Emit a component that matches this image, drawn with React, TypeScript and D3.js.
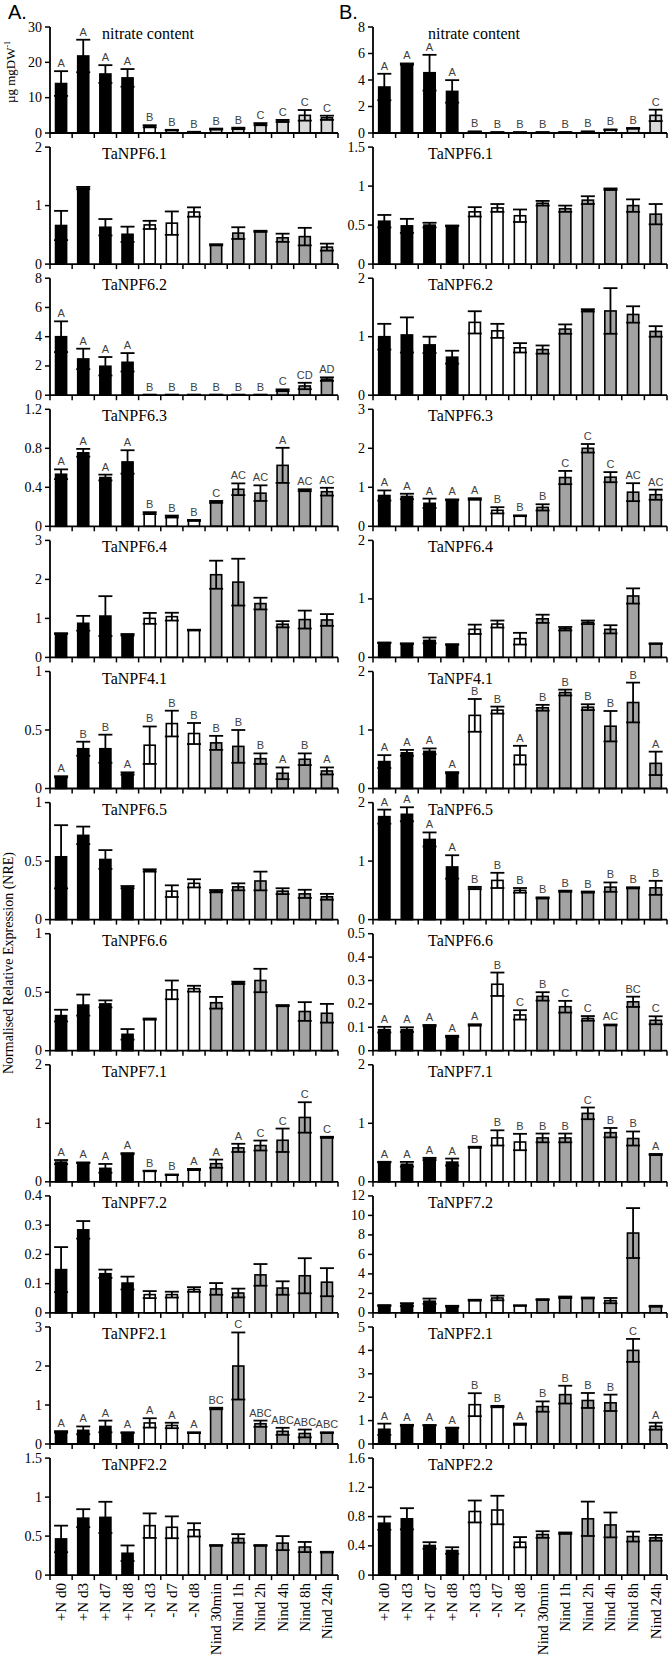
import * as d3 from 'd3';

// sampling points along the x axis
const categories = [
  '+N d0', '+N d3', '+N d7', '+N d8', '-N d3', '-N d7', '-N d8',
  'Nind 30min', 'Nind 1h', 'Nind 2h', 'Nind 4h', 'Nind 8h', 'Nind 24h',
];
const groups = ['plus', 'plus', 'plus', 'plus', 'minus', 'minus', 'minus', 'nind', 'nind', 'nind', 'nind', 'nind', 'nind'];

const titles = [
  'nitrate content', 'TaNPF6.1', 'TaNPF6.2', 'TaNPF6.3', 'TaNPF6.4', 'TaNPF4.1',
  'TaNPF6.5', 'TaNPF6.6', 'TaNPF7.1', 'TaNPF7.2', 'TaNPF2.1', 'TaNPF2.2',
];

// ---- panel A ----
const nitrateA = [14, 21.8, 16.7, 15.6, 1.9, 0.8, 0.3, 1.1, 1.3, 2.5, 3.4, 5.0, 4.3];
const nitrateAErr = [3.5, 4.6, 2.5, 2.5, 0.3, 0.1, 0.05, 0.15, 0.2, 0.3, 0.3, 1.5, 0.6];
const nitrateALet = ['A', 'A', 'A', 'A', 'B', 'B', 'B', 'B', 'B', 'C', 'C', 'C', 'C'];

const npf61A = [0.66, 1.3, 0.63, 0.51, 0.67, 0.7, 0.89, 0.33, 0.53, 0.56, 0.45, 0.47, 0.29];
const npf61AErr = [0.25, 0.02, 0.14, 0.13, 0.07, 0.2, 0.08, 0.01, 0.1, 0.01, 0.07, 0.15, 0.06];

const npf62A = [4.0, 2.48, 1.98, 2.25, 0.03, 0.03, 0.03, 0.03, 0.03, 0.03, 0.34, 0.63, 1.1];
const npf62AErr = [1.05, 0.7, 0.63, 0.63, 0.01, 0.01, 0.01, 0.01, 0.01, 0.01, 0.06, 0.22, 0.12];
const npf62ALet = ['A', 'A', 'A', 'A', 'B', 'B', 'B', 'B', 'B', 'B', 'C', 'CD', 'AD'];

const npf63A = [0.534, 0.754, 0.5, 0.66, 0.135, 0.1, 0.06, 0.25, 0.38, 0.34, 0.625, 0.37, 0.355];
const npf63AErr = [0.05, 0.04, 0.03, 0.12, 0.01, 0.01, 0.005, 0.01, 0.06, 0.08, 0.18, 0.01, 0.04];
const npf63ALet = ['A', 'A', 'A', 'A', 'B', 'B', 'B', 'C', 'AC', 'AC', 'A', 'AC', 'AC'];

const npf64A = [0.61, 0.875, 1.06, 0.58, 1.0, 1.045, 0.7, 2.12, 1.93, 1.38, 0.85, 0.97, 0.96];
const npf64AErr = [0.01, 0.19, 0.51, 0.02, 0.14, 0.1, 0.01, 0.36, 0.6, 0.15, 0.08, 0.23, 0.15];

const npf41A = [0.1, 0.34, 0.34, 0.128, 0.37, 0.555, 0.47, 0.39, 0.36, 0.255, 0.13, 0.25, 0.15];
const npf41AErr = [0.005, 0.06, 0.12, 0.01, 0.16, 0.11, 0.09, 0.06, 0.14, 0.045, 0.05, 0.05, 0.03];
const npf41ALet = ['A', 'B', 'B', 'A', 'B', 'B', 'B', 'B', 'B', 'B', 'A', 'B', 'A'];

const npf65A = [0.537, 0.72, 0.514, 0.277, 0.42, 0.243, 0.31, 0.243, 0.28, 0.33, 0.243, 0.22, 0.195];
const npf65AErr = [0.27, 0.075, 0.08, 0.01, 0.01, 0.05, 0.035, 0.01, 0.03, 0.08, 0.025, 0.035, 0.025];

const npf66A = [0.3, 0.39, 0.4, 0.14, 0.27, 0.52, 0.53, 0.41, 0.58, 0.6, 0.385, 0.335, 0.32];
const npf66AErr = [0.05, 0.09, 0.03, 0.045, 0.005, 0.08, 0.025, 0.05, 0.01, 0.1, 0.005, 0.08, 0.08];

const npf71A = [0.337, 0.326, 0.23, 0.48, 0.185, 0.12, 0.21, 0.31, 0.58, 0.62, 0.71, 1.1, 0.76];
const npf71AErr = [0.035, 0.005, 0.075, 0.01, 0.005, 0.005, 0.01, 0.07, 0.07, 0.085, 0.2, 0.26, 0.01];
const npf71ALet = ['A', 'A', 'A', 'A', 'B', 'B', 'A', 'A', 'A', 'C', 'C', 'C', 'C'];

const npf72A = [0.148, 0.284, 0.134, 0.102, 0.0625, 0.0625, 0.08, 0.082, 0.068, 0.13, 0.085, 0.127, 0.105];
const npf72AErr = [0.077, 0.03, 0.014, 0.022, 0.012, 0.01, 0.008, 0.02, 0.015, 0.037, 0.023, 0.06, 0.048];

const npf21A = [0.31, 0.35, 0.45, 0.29, 0.54, 0.475, 0.29, 0.91, 2.0, 0.52, 0.325, 0.27, 0.29];
const npf21AErr = [0.02, 0.1, 0.15, 0.01, 0.12, 0.07, 0.01, 0.02, 0.86, 0.08, 0.09, 0.1, 0.01];
const npf21ALet = ['A', 'A', 'A', 'A', 'A', 'A', 'A', 'BC', 'C', 'ABC', 'ABC', 'ABC', 'ABC'];

const npf22A = [0.464, 0.73, 0.74, 0.28, 0.634, 0.613, 0.58, 0.38, 0.47, 0.38, 0.41, 0.36, 0.294];
const npf22AErr = [0.17, 0.115, 0.2, 0.1, 0.157, 0.14, 0.085, 0.005, 0.055, 0.005, 0.09, 0.065, 0.005];

// ---- panel B ----
const nitrateB = [3.47, 5.2, 4.55, 3.14, 0.1, 0.05, 0.05, 0.05, 0.05, 0.1, 0.25, 0.35, 1.33];
const nitrateBErr = [1.0, 0.05, 1.35, 0.85, 0.02, 0.01, 0.01, 0.01, 0.01, 0.02, 0.02, 0.03, 0.43];
const nitrateBLet = ['A', 'A', 'A', 'A', 'B', 'B', 'B', 'B', 'B', 'B', 'B', 'B', 'C'];

const npf61B = [0.55, 0.49, 0.5, 0.49, 0.67, 0.72, 0.62, 0.78, 0.71, 0.82, 0.96, 0.75, 0.64];
const npf61BErr = [0.08, 0.09, 0.03, 0.005, 0.06, 0.05, 0.08, 0.03, 0.04, 0.05, 0.01, 0.08, 0.13];

const npf62B = [1.0, 1.03, 0.86, 0.65, 1.245, 1.1, 0.81, 0.78, 1.13, 1.45, 1.44, 1.38, 1.09];
const npf62BErr = [0.22, 0.3, 0.14, 0.11, 0.19, 0.12, 0.08, 0.07, 0.08, 0.02, 0.39, 0.14, 0.09];

const npf63B = [0.79, 0.765, 0.59, 0.68, 0.7, 0.41, 0.27, 0.485, 1.25, 2.0, 1.26, 0.875, 0.81];
const npf63BErr = [0.13, 0.07, 0.12, 0.01, 0.02, 0.08, 0.01, 0.08, 0.17, 0.11, 0.13, 0.23, 0.13];
const npf63BLet = ['A', 'A', 'A', 'A', 'A', 'B', 'B', 'B', 'C', 'C', 'C', 'AC', 'AC'];

const npf64B = [0.25, 0.235, 0.29, 0.22, 0.48, 0.57, 0.32, 0.66, 0.49, 0.6, 0.48, 1.05, 0.235];
const npf64BErr = [0.005, 0.005, 0.05, 0.005, 0.08, 0.06, 0.1, 0.07, 0.03, 0.03, 0.07, 0.13, 0.005];

const npf41B = [0.46, 0.61, 0.635, 0.27, 1.25, 1.34, 0.57, 1.38, 1.64, 1.39, 1.065, 1.47, 0.43];
const npf41BErr = [0.11, 0.05, 0.05, 0.01, 0.28, 0.06, 0.16, 0.05, 0.05, 0.05, 0.26, 0.34, 0.2];
const npf41BLet = ['A', 'A', 'A', 'A', 'B', 'B', 'A', 'B', 'B', 'B', 'B', 'B', 'A'];

const npf65B = [1.76, 1.8, 1.37, 0.9, 0.54, 0.67, 0.5, 0.37, 0.485, 0.47, 0.555, 0.543, 0.543];
const npf65BErr = [0.12, 0.12, 0.12, 0.2, 0.02, 0.13, 0.04, 0.01, 0.01, 0.01, 0.08, 0.01, 0.12];
const npf65BLet = ['A', 'A', 'A', 'A', 'B', 'B', 'B', 'B', 'B', 'B', 'B', 'B', 'B'];

const npf66B = [0.09, 0.09, 0.107, 0.061, 0.11, 0.284, 0.153, 0.232, 0.188, 0.138, 0.11, 0.209, 0.13];
const npf66BErr = [0.012, 0.01, 0.003, 0.003, 0.003, 0.05, 0.02, 0.018, 0.025, 0.01, 0.002, 0.022, 0.017];
const npf66BLet = ['A', 'A', 'A', 'A', 'A', 'B', 'C', 'B', 'C', 'C', 'AC', 'BC', 'C'];

const npf71B = [0.337, 0.3, 0.39, 0.337, 0.59, 0.75, 0.68, 0.75, 0.75, 1.17, 0.84, 0.74, 0.466];
const npf71BErr = [0.005, 0.04, 0.02, 0.06, 0.01, 0.13, 0.14, 0.075, 0.075, 0.1, 0.08, 0.12, 0.01];
const npf71BLet = ['A', 'A', 'A', 'A', 'B', 'B', 'B', 'B', 'B', 'C', 'B', 'B', 'A'];

const npf72B = [0.75, 0.85, 1.2, 0.68, 1.3, 1.53, 0.75, 1.36, 1.6, 1.53, 1.26, 8.19, 0.68];
const npf72BErr = [0.05, 0.15, 0.27, 0.05, 0.05, 0.24, 0.03, 0.05, 0.08, 0.05, 0.27, 2.56, 0.05];

const npf21B = [0.63, 0.8, 0.8, 0.69, 1.68, 1.6, 0.845, 1.6, 2.11, 1.86, 1.76, 4.0, 0.76];
const npf21BErr = [0.24, 0.02, 0.01, 0.01, 0.49, 0.03, 0.03, 0.22, 0.38, 0.32, 0.35, 0.49, 0.15];
const npf21BLet = ['A', 'A', 'A', 'A', 'B', 'B', 'A', 'B', 'B', 'B', 'B', 'C', 'A'];

const npf22B = [0.71, 0.77, 0.405, 0.336, 0.87, 0.89, 0.45, 0.555, 0.573, 0.77, 0.686, 0.527, 0.51];
const npf22BErr = [0.09, 0.145, 0.045, 0.045, 0.15, 0.195, 0.07, 0.045, 0.01, 0.235, 0.17, 0.068, 0.04];

// y tick labels per row
const ticksA = [
  [0, 10, 20, 30], [0, 1, 2], [0, 2, 4, 6, 8], [0, 0.4, 0.8, 1.2], [0, 1, 2, 3], [0, 0.5, 1],
  [0, 0.5, 1], [0, 0.5, 1], [0, 1, 2], [0, 0.1, 0.2, 0.3, 0.4], [0, 1, 2, 3], [0, 0.5, 1, 1.5],
];
const ticksB = [
  [0, 2, 4, 6, 8], [0, 0.5, 1, 1.5], [0, 1, 2], [0, 1, 2, 3], [0, 1, 2], [0, 1, 2],
  [0, 1, 2], [0, 0.1, 0.2, 0.3, 0.4, 0.5], [0, 1, 2], [0, 2, 4, 6, 8, 10, 12], [0, 1, 2, 3, 4, 5], [0, 0.4, 0.8, 1.2, 1.6],
];

const rowsA = [
  [nitrateA, nitrateAErr, nitrateALet], [npf61A, npf61AErr, []], [npf62A, npf62AErr, npf62ALet],
  [npf63A, npf63AErr, npf63ALet], [npf64A, npf64AErr, []], [npf41A, npf41AErr, npf41ALet],
  [npf65A, npf65AErr, []], [npf66A, npf66AErr, []], [npf71A, npf71AErr, npf71ALet],
  [npf72A, npf72AErr, []], [npf21A, npf21AErr, npf21ALet], [npf22A, npf22AErr, []],
];
const rowsB = [
  [nitrateB, nitrateBErr, nitrateBLet], [npf61B, npf61BErr, []], [npf62B, npf62BErr, []],
  [npf63B, npf63BErr, npf63BLet], [npf64B, npf64BErr, []], [npf41B, npf41BErr, npf41BLet],
  [npf65B, npf65BErr, npf65BLet], [npf66B, npf66BErr, npf66BLet], [npf71B, npf71BErr, npf71BLet],
  [npf72B, npf72BErr, []], [npf21B, npf21BErr, npf21BLet], [npf22B, npf22BErr, []],
];

const serif = '"Liberation Serif", "Times New Roman", serif';
const sans = '"Liberation Sans", Arial, sans-serif';

const W = 669;
const H = 1667;
const firstZero = 133;
const rowPitch = 131.1;
const panelH = 117;

function fillFor(group: string, isNitrate: boolean) {
  if (group === 'plus') return '#000';
  if (group === 'minus') return '#fff';
  return isNitrate ? '#d9d9d9' : '#a3a3a3';
}

function Panel({ row, x0, x1, titleX, ticks, values, errors, letters, showX }: any) {
  const zero = firstZero + row * rowPitch;
  const top = row === 0 ? 27 : zero - panelH;
  const x = d3.scaleBand().domain(categories).range([x0, x1]).padding(0);
  const y = d3.scaleLinear().domain([0, ticks[ticks.length - 1]]).range([zero, top]);
  const bw = x.bandwidth() * 0.5;
  const capW = 14;
  const isNitrate = row === 0;
  const bounds = [...categories.map((c) => x(c) as number), x1];

  return (
    <g>
      <text x={titleX} y={top + 12} fontFamily={serif} fontSize={16}>{titles[row]}</text>

      {/* bars */}
      {values.map((v: number, i: number) => {
        const cx = (x(categories[i]) as number) + x.bandwidth() / 2;
        return (
          <rect key={`b${i}`} x={cx - bw / 2} y={y(v)} width={bw} height={zero - y(v)}
            fill={fillFor(groups[i], isNitrate)} stroke="#000" strokeWidth={1.6} />
        );
      })}

      {/* error bars */}
      {values.map((v: number, i: number) => {
        const cx = (x(categories[i]) as number) + x.bandwidth() / 2;
        const e = errors[i];
        const yHi = y(v + e);
        const yLo = y(Math.max(0, v - e));
        return (
          <g key={`e${i}`} stroke="#000" strokeWidth={1.8}>
            <line x1={cx} x2={cx} y1={yHi} y2={yLo} />
            <line x1={cx - capW / 2} x2={cx + capW / 2} y1={yHi} y2={yHi} />
            <line x1={cx - capW / 2} x2={cx + capW / 2} y1={yLo} y2={yLo} />
          </g>
        );
      })}

      {/* significance letters */}
      {letters.map((l: string, i: number) => {
        const cx = (x(categories[i]) as number) + x.bandwidth() / 2;
        return (
          <text key={`l${i}`} x={cx} y={y(values[i] + errors[i]) - 4} textAnchor="middle"
            fontFamily={sans} fontSize={11} fill="#404040">{l}</text>
        );
      })}

      {/* y axis */}
      <line x1={x0} x2={x0} y1={top} y2={zero} stroke="#000" strokeWidth={1.8} />
      {ticks.map((t: number) => (
        <g key={`t${t}`}>
          <line x1={x0 - 5} x2={x0} y1={y(t)} y2={y(t)} stroke="#000" strokeWidth={1.5} />
          <text x={x0 - 8} y={y(t)} textAnchor="end" dominantBaseline="central"
            fontFamily={serif} fontSize={14}>{String(t)}</text>
        </g>
      ))}

      {/* x axis */}
      <line x1={x0} x2={x1} y1={zero} y2={zero} stroke="#000" strokeWidth={1.8} />
      {bounds.map((bx, i) => (
        <line key={`x${i}`} x1={bx} x2={bx} y1={zero} y2={zero + 5} stroke="#000" strokeWidth={1.5} />
      ))}
      {showX && categories.map((c) => {
        const cx = (x(c) as number) + x.bandwidth() / 2;
        return (
          <text key={`c${c}`} transform={`translate(${cx}, ${zero + 8}) rotate(-90)`}
            textAnchor="end" dominantBaseline="central" fontFamily={serif} fontSize={15}>{c}</text>
        );
      })}
    </g>
  );
}

export default function App() {
  const colA = { x0: 50, x1: 338, titleX: 102 };
  const colB = { x0: 373, x1: 667, titleX: 428 };
  return (
    <svg width={W} height={H} style={{ position: 'absolute', left: 0, top: 0, background: '#fff' }}>
      <rect width={W} height={H} fill="#fff" />
      <text x={8} y={19} fontFamily={sans} fontSize={20}>A.</text>
      <text x={339} y={19} fontFamily={sans} fontSize={20}>B.</text>

      <text transform="translate(15, 72) rotate(-90)" textAnchor="middle" fontFamily={serif} fontSize={13}>
        <tspan>µg mgDW</tspan>
        <tspan dy={-5} fontSize={8}>-1</tspan>
      </text>
      <text transform="translate(13, 963) rotate(-90)" textAnchor="middle" fontFamily={serif} fontSize={14}>
        Normalised Relative Expression (NRE)
      </text>

      {rowsA.map((r, i) => (
        <Panel key={`a${i}`} row={i} {...colA} ticks={ticksA[i]} values={r[0]} errors={r[1]}
          letters={r[2]} showX={i === rowsA.length - 1} />
      ))}
      {rowsB.map((r, i) => (
        <Panel key={`b${i}`} row={i} {...colB} ticks={ticksB[i]} values={r[0]} errors={r[1]}
          letters={r[2]} showX={i === rowsB.length - 1} />
      ))}
    </svg>
  );
}
